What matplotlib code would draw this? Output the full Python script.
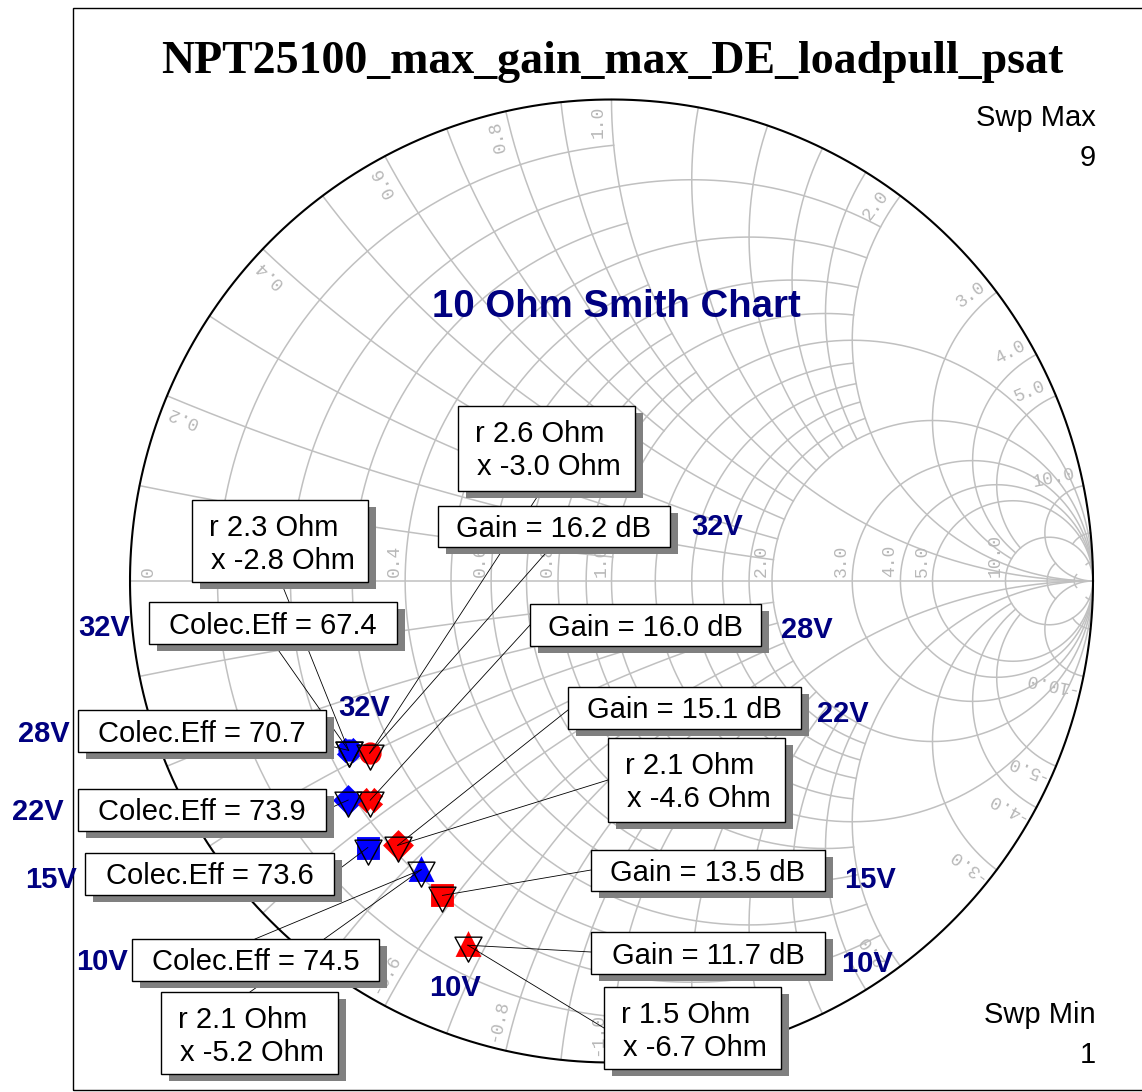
import numpy as np
import matplotlib
matplotlib.use("Agg")
import matplotlib.pyplot as plt
from matplotlib.patches import Rectangle
from matplotlib.path import Path

# ---- data (impedances in Ohm, chart normalised to 10 Ohm) ----
z0 = 10.0
voltages = ["32V", "28V", "22V", "15V", "10V"]
gain_db = [16.2, 16.0, 15.1, 13.5, 11.7]
eff_pct = [67.4, 70.7, 73.9, 73.6, 74.5]
gain_r = [2.6, 2.2, 2.1, 2.0, 1.5]
gain_x = [-3.0, -3.7, -4.6, -5.8, -6.7]
eff_r = [2.3, 2.3, 1.9, 1.7, 2.1]
eff_x = [-2.8, -2.8, -3.5, -4.3, -5.2]
marker_shapes = ["o", "X", "D", "s", "^"]

# grid values (normalised) and how far each line is drawn
r_grid = [(0.1, 1), (0.3, 1), (0.5, 1), (0.7, 1), (0.9, 1),
          (0.2, 2), (0.4, 2), (0.6, 2), (0.8, 2), (1.0, None),
          (1.2, 2), (1.4, 2), (1.6, 2), (1.8, 2), (2.0, None),
          (3.0, None), (4.0, None), (5.0, None), (10.0, None),
          (20.0, 10), (50.0, 20)]
x_grid = [(0.1, 1), (0.3, 1), (0.5, 1), (0.7, 1), (0.9, 1),
          (0.2, 2), (0.4, 2), (0.6, 2), (0.8, 2), (1.0, None),
          (1.2, 2), (1.4, 2), (1.6, 2), (1.8, 2), (2.0, None),
          (3.0, 10), (4.0, 10), (5.0, 10), (10.0, None),
          (20.0, 10), (50.0, 20)]
axis_labels = [0.0, 0.4, 0.6, 0.8, 1.0, 2.0, 3.0, 4.0, 5.0, 10.0]
rim_labels = [0.2, 0.4, 0.6, 0.8, 1.0, 2.0, 3.0, 4.0, 5.0, 10.0]

# ---- figure geometry (pixels) ----
W, H = 1142, 1092
CX, CY, RAD = 611.5, 581.0, 481.5


def g(px, py):
    return (px - CX) / RAD, (CY - py) / RAD


def gamma(z):
    return (z - 1) / (z + 1)


fig = plt.figure(figsize=(W / 100, H / 100), dpi=100)
ax = fig.add_axes([0, 0, 1, 1])
ax.set_xlim(g(0, 0)[0], g(W, 0)[0])
ax.set_ylim(g(0, H)[1], g(0, 0)[1])
ax.axis("off")

GRID = "#c0c0c0"


def r_circle(r, xmax=None):
    c, rad = r / (1 + r), 1 / (1 + r)
    if xmax is None:
        t = np.linspace(0, 2 * np.pi, 721)
    else:
        t0 = np.angle(gamma(r + 1j * xmax) - c)
        t = np.linspace(t0, 2 * np.pi - t0, 600)
    return c + rad * np.cos(t), rad * np.sin(t)


def x_arc(x, rmax=None):
    cy = 1 / x
    cen = 1 + 1j * cy
    a0 = np.mod(np.angle(gamma(1j * x) - cen), 2 * np.pi)
    end = gamma(rmax + 1j * x) if rmax else 1 + 0j
    a1 = np.mod(np.angle(end - cen), 2 * np.pi)
    t = np.linspace(a0, a1, 500)
    return 1 + cy * np.cos(t), cy + cy * np.sin(t)


for r, xm in r_grid:
    xs, ys = r_circle(r, xm)
    ax.plot(xs, ys, color=GRID, lw=1.1, zorder=1)
for x, rm in x_grid:
    xs, ys = x_arc(x, rm)
    ax.plot(xs, ys, color=GRID, lw=1.1, zorder=1)
    ax.plot(xs, -ys, color=GRID, lw=1.1, zorder=1)
ax.plot([-1, 1], [0, 0], color=GRID, lw=1.1, zorder=1)

t = np.linspace(0, 2 * np.pi, 1000)
ax.plot(np.cos(t), np.sin(t), color="black", lw=1.5, zorder=2)

# grid labels
lab_kw = dict(fontsize=13, family="Liberation Mono", color="#b8b8b8",
              rotation_mode="anchor", zorder=1.5)
px1 = 1 / RAD
for r in axis_labels:
    gx = gamma(r)
    if r == 0:
        ax.text(gx + 10 * px1, 4 * px1, "0", rotation=90, ha="left",
                va="top", **lab_kw)
    else:
        ax.text(gx - 2 * px1, 4 * px1, f"{r:.1f}", rotation=90, ha="left",
                va="bottom", **lab_kw)
for v in rim_labels:
    for s in (1, -1):
        p = gamma(1j * v * s)
        th = np.angle(p)
        u = np.exp(1j * th)
        if s > 0:
            q = p - 6 * px1 * u + 5 * px1 * 1j * u
            ax.text(q.real, q.imag, f"{v:.1f}", rotation=np.degrees(th),
                    ha="right", va="bottom", **lab_kw)
        else:
            q = p - 6 * px1 * u - 5 * px1 * 1j * u
            ax.text(q.real, q.imag, f"-{v:.1f}", rotation=np.degrees(th) + 180,
                    ha="left", va="bottom", **lab_kw)

# ---- data points ----
gain_pts = gamma((np.array(gain_r) + 1j * np.array(gain_x)) / z0)
eff_pts = gamma((np.array(eff_r) + 1j * np.array(eff_x)) / z0)

tri = Path([(-0.81, 0.5), (0.81, 0.5), (0, -1), (-0.81, 0.5)],
           [Path.MOVETO, Path.LINETO, Path.LINETO, Path.CLOSEPOLY])
for pts, col in ((eff_pts, "#0000ff"), (gain_pts, "#ff0000")):
    for p, mk in zip(pts, marker_shapes):
        ax.plot(p.real, p.imag, marker=mk, ms=12.5, mfc=col, mec=col, mew=3.5,
                zorder=5)
    for p in pts:
        ax.plot(p.real, p.imag, marker=tri, ms=24, mfc="none", mec="black",
                mew=1, zorder=6)

# ---- annotation boxes: (text, target) + box l,t,r,b and attach point in px ----
boxes = []
for i in range(5):
    boxes.append((f"Colec.Eff = {eff_pct[i]}", eff_pts[i]))
for i in range(5):
    boxes.append((f"Gain = {gain_db[i]:.1f} dB", gain_pts[i]))
imp_src = [(gain_r, gain_x, gain_pts, 0), (eff_r, eff_x, eff_pts, 0),
           (gain_r, gain_x, gain_pts, 2), (eff_r, eff_x, eff_pts, 4),
           (gain_r, gain_x, gain_pts, 4)]
for rr, xx, pp, i in imp_src:
    boxes.append((f"r {rr[i]:.1f} Ohm\nx {xx[i]:.1f} Ohm", pp[i]))

box_rects = [(149, 602, 397, 644), (78, 710, 326, 752), (78, 789, 326, 831),
             (85, 853, 334, 895), (132, 939, 379, 981),
             (438, 506, 670, 547), (530, 604, 761, 646), (568, 687, 801, 729),
             (591, 850, 825, 891), (591, 932, 825, 974),
             (458, 406, 635, 491), (192, 500, 368, 582), (608, 738, 785, 822),
             (161, 992, 338, 1074), (604, 987, 781, 1069)]
attach = [(274, 644), (326, 745), (326, 810), (334, 873), (255, 939),
          (551, 547), (530, 625), (568, 710), (591, 870), (591, 952),
          (541, 491), (281, 582), (608, 780), (250, 992), (604, 1028)]

for (txt, tgt), (l, tp, rt, b), (axp, ayp) in zip(boxes, box_rects, attach):
    ax.plot([g(axp, ayp)[0], tgt.real], [g(axp, ayp)[1], tgt.imag],
            color="black", lw=0.6, zorder=7)
    x0, y0 = g(l, b)
    w, h = (rt - l) / RAD, (b - tp) / RAD
    ax.add_patch(Rectangle((x0 + 8 * px1, y0 - 7 * px1), w, h,
                           facecolor="#808080", edgecolor="none", zorder=9))
    ax.add_patch(Rectangle((x0, y0), w, h, facecolor="white",
                           edgecolor="black", lw=1, zorder=10))
    if "\n" in txt:
        l1, l2 = txt.split("\n")
        ax.text(*g(l + 17, tp + 36), l1, fontsize=21, family="Liberation Sans",
                ha="left", va="baseline", zorder=11)
        ax.text(*g(l + 19, tp + 69), l2, fontsize=21, family="Liberation Sans",
                ha="left", va="baseline", zorder=11)
    else:
        ax.text(*g((l + rt) / 2, (tp + b) / 2 + 10.5), txt, fontsize=21,
                family="Liberation Sans", ha="center", va="baseline", zorder=11)

# voltage tags
NAVY = "#000080"
gain_tag = [(717, 524), (807, 628), (843, 711), (870, 877), (867, 961)]
eff_tag = [(104, 625), (44, 731), (38, 810), (51, 877), (102, 959)]
vkw = dict(fontsize=21, fontweight="bold", family="Liberation Sans",
           color=NAVY, ha="center", va="baseline", zorder=12)
for v, a, b in zip(voltages, gain_tag, eff_tag):
    for px, py in (a, b):
        ax.text(*g(px, py + 10.5), v, **vkw)
ax.text(*g(364, 715.5), voltages[0], **vkw)
ax.text(*g(455, 995.5), voltages[-1], **vkw)

# titles and sweep text
ax.text(*g(612, 73), "NPT25100_max_gain_max_DE_loadpull_psat", fontsize=33,
        fontweight="bold", family="Liberation Serif", ha="center",
        va="baseline", zorder=12)
ax.text(*g(616, 317), "10 Ohm Smith Chart", fontsize=27.6, fontweight="bold",
        family="Liberation Sans", color=NAVY, ha="center", va="baseline",
        zorder=3)
for s, yy in (("Swp Max", 126), ("9", 166), ("Swp Min", 1023), ("1", 1063)):
    ax.text(*g(1096, yy), s, fontsize=21, family="Liberation Sans",
            ha="right", va="baseline", zorder=12)

# plot frame
fx, fy = g(73, 1090)
ax.add_patch(Rectangle((fx, fy), (W + 10 - 73) / RAD, (1090 - 8) / RAD,
                       facecolor="none", edgecolor="black", lw=1, zorder=0.5))

fig.savefig("out.png", dpi=100)
